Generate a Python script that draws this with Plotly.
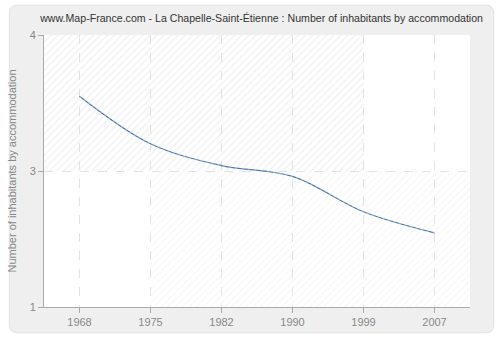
import plotly.graph_objects as go

years = ["1968", "1975", "1982", "1990", "1999", "2007"]
values = [3.55, 3.20, 3.04, 2.96, 2.70, 2.545]
ytick_vals = [2, 3, 4]
ytick_text = ["1", "3", "4"]

W, H = 500, 340
ML, MR, MT, MB = 40, 30, 35, 31
PW, PH = W - ML - MR, H - MT - MB

def px(x):
    return (x - ML) / PW

def py(y):
    return (H - MB - y) / PH

def rrect(x0, y0, x1, y1, r):
    return (f"M{px(x0+r)},{py(y0)} L{px(x1-r)},{py(y0)} Q{px(x1)},{py(y0)} {px(x1)},{py(y0+r)} "
            f"L{px(x1)},{py(y1-r)} Q{px(x1)},{py(y1)} {px(x1-r)},{py(y1)} "
            f"L{px(x0+r)},{py(y1)} Q{px(x0)},{py(y1)} {px(x0)},{py(y1-r)} "
            f"L{px(x0)},{py(y0+r)} Q{px(x0)},{py(y0)} {px(x0+r)},{py(y0)} Z")

FONT = "Liberation Sans"

fig = go.Figure()

# hatch background (upper and lower halves)
fig.add_trace(go.Bar(x=[0.5], y=[0.5], base=[0.5], width=[1], xaxis="x2", yaxis="y2",
                     marker=dict(color="rgba(0,0,0,0)", line=dict(width=0),
                                 pattern=dict(shape="/", fgcolor="#e2e2e2", bgcolor="rgba(0,0,0,0)",
                                              size=5, solidity=0.25)),
                     hoverinfo="skip", showlegend=False))
fig.add_trace(go.Bar(x=[0.5], y=[0.5], base=[0], width=[1], xaxis="x2", yaxis="y2",
                     marker=dict(color="rgba(0,0,0,0)", line=dict(width=0),
                                 pattern=dict(shape="/", fgcolor="#efefef", bgcolor="rgba(0,0,0,0)",
                                              size=5, solidity=0.25)),
                     hoverinfo="skip", showlegend=False))

fig.add_trace(go.Scatter(x=years, y=values, mode="lines",
                         line=dict(color="#4a78ad", width=1.2, shape="spline", smoothing=1.0),
                         showlegend=False))

fig.update_layout(
    width=W, height=H,
    margin=dict(l=ML, r=MR, t=MT, b=MB),
    paper_bgcolor="white",
    plot_bgcolor="rgba(0,0,0,0)",
    font=dict(family=FONT, size=11, color="#888888"),
    title=dict(text="www.Map-France.com - La Chapelle-Saint-Étienne : Number of inhabitants by accommodation",
               x=px(265), xanchor="center", y=1 - 18 / H, yanchor="middle",
               font=dict(family=FONT, size=10.6, color="#333333")),
    xaxis=dict(type="category", range=[-0.5, 5.5], showgrid=True, gridcolor="#e2e2e2",
               griddash="dash", gridwidth=1, showline=True, linecolor="#aaaaaa",
               ticks="outside", ticklen=5, tickcolor="#aaaaaa", zeroline=False,
               tickfont=dict(family=FONT, size=11, color="#888888")),
    yaxis=dict(range=[2, 4], tickvals=ytick_vals, ticktext=ytick_text, showgrid=True,
               gridcolor="#e2e2e2", griddash="dash", showline=True, linecolor="#aaaaaa",
               ticks="outside", ticklen=5, tickcolor="#aaaaaa", zeroline=False,
               title=dict(text="Number of inhabitants by accommodation", standoff=10,
                          font=dict(family=FONT, size=11, color="#888888")),
               tickfont=dict(family=FONT, size=11, color="#888888")),
    xaxis2=dict(range=[0, 1], overlaying="x", visible=False, fixedrange=True),
    yaxis2=dict(range=[0, 1], overlaying="y", visible=False, fixedrange=True),
    bargap=0,
    shapes=[
        dict(type="path", xref="paper", yref="paper", path=rrect(5, 5, 494, 335, 8),
             fillcolor="#efefef", line=dict(color="#e2e2e2", width=1), layer="below"),
        dict(type="rect", xref="paper", yref="paper", x0=0, x1=1, y0=0, y1=1,
             fillcolor="#ffffff", line=dict(width=0), layer="below"),
    ],
)

fig.write_html("out.html")
